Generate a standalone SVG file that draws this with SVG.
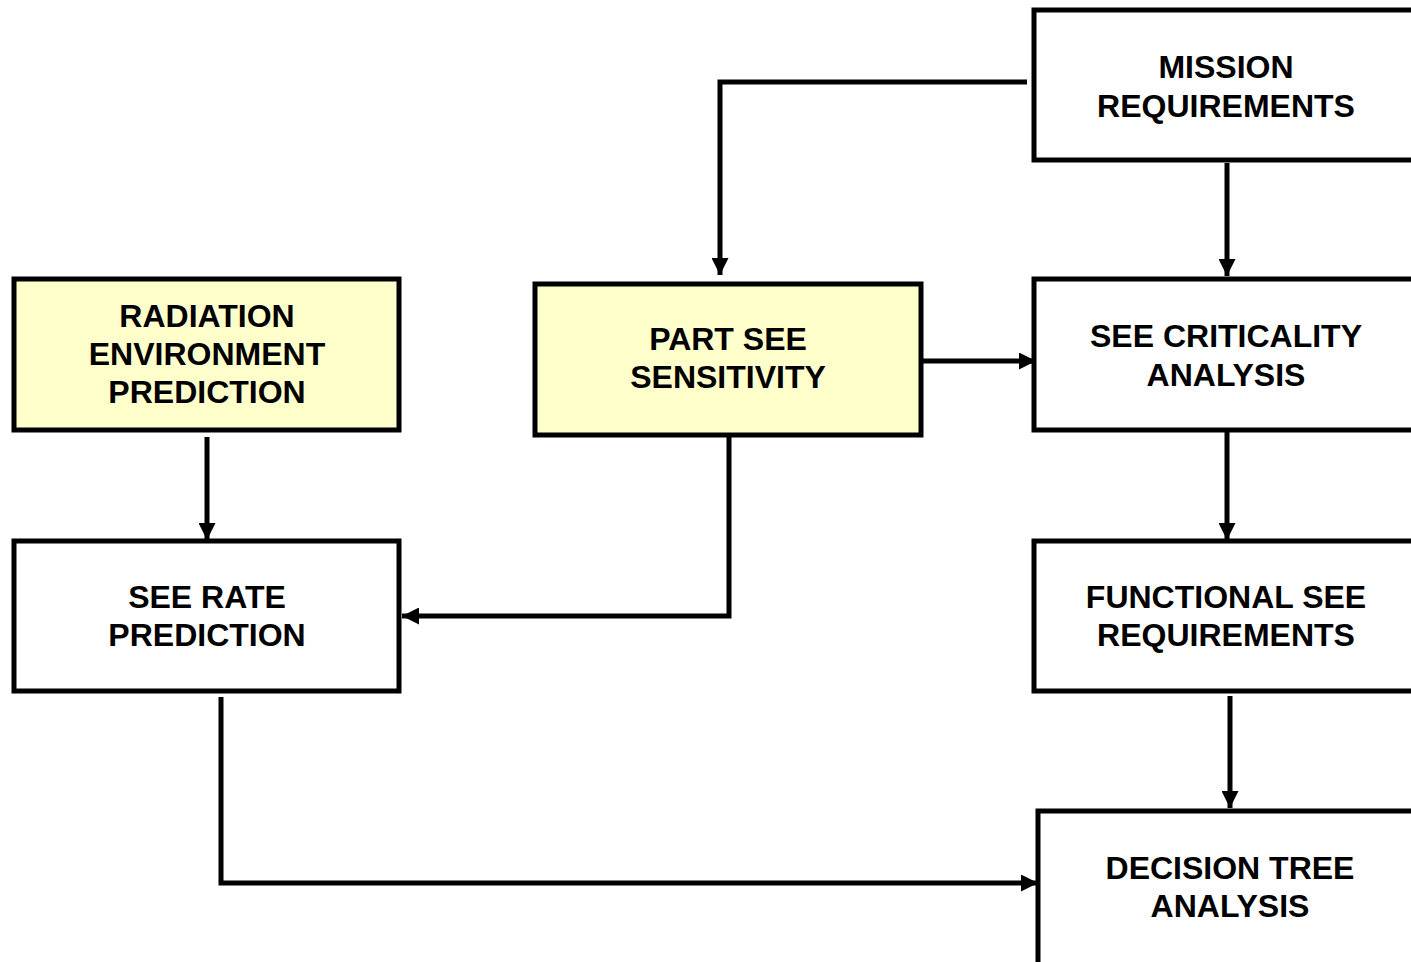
<svg xmlns="http://www.w3.org/2000/svg" width="1411" height="962" viewBox="0 0 1411 962">
  <style>
    .box { fill: #ffffff; stroke: #000000; stroke-width: 5; }
    .hl { fill: #ffffcc; }
    .lbl { font-family: "Liberation Sans", Arial, sans-serif; font-weight: bold; font-size: 32px; fill: #000000; text-anchor: middle; }
    .wire { fill: none; stroke: #000000; stroke-width: 5; stroke-linejoin: miter; }
  </style>
  <defs>
    <marker id="arrow" viewBox="0 0 10 10" refX="10" refY="5" markerWidth="3.4" markerHeight="3.4" orient="auto" markerUnits="strokeWidth">
      <path d="M0,0 L10,5 L0,10 Z" fill="#000000"/>
    </marker>
  </defs>
  <rect width="1411" height="962" fill="#ffffff"/>

  <g id="connectors">
    <!-- mission requirements feeding part sensitivity -->
    <polyline class="wire" points="1027,82 720,82 720,275" marker-end="url(#arrow)"/>
    <!-- mission requirements to criticality analysis -->
    <line class="wire" x1="1227" y1="163" x2="1227" y2="276" marker-end="url(#arrow)"/>
    <!-- part sensitivity to criticality analysis -->
    <line class="wire" x1="922" y1="361" x2="1036" y2="361" marker-end="url(#arrow)"/>
    <!-- criticality analysis to functional requirements -->
    <line class="wire" x1="1227" y1="432" x2="1227" y2="540" marker-end="url(#arrow)"/>
    <!-- functional requirements to decision tree -->
    <line class="wire" x1="1230" y1="696" x2="1230" y2="808" marker-end="url(#arrow)"/>
    <!-- radiation environment to rate prediction -->
    <line class="wire" x1="207" y1="437" x2="207" y2="540" marker-end="url(#arrow)"/>
    <!-- part sensitivity to rate prediction -->
    <polyline class="wire" points="729,437 729,616 402,616" marker-end="url(#arrow)"/>
    <!-- rate prediction to decision tree -->
    <polyline class="wire" points="221,697 221,883 1038,883" marker-end="url(#arrow)"/>
  </g>

  <g id="mission-requirements">
    <rect class="box" x="1034" y="10" width="400" height="150"/>
    <text class="lbl" x="1226" y="78">MISSION</text>
    <text class="lbl" x="1226" y="117">REQUIREMENTS</text>
  </g>

  <g id="radiation-environment">
    <rect class="box hl" x="14" y="279" width="385" height="151"/>
    <text class="lbl" x="207" y="327">RADIATION</text>
    <text class="lbl" x="207" y="365">ENVIRONMENT</text>
    <text class="lbl" x="207" y="403">PREDICTION</text>
  </g>

  <g id="part-see-sensitivity">
    <rect class="box hl" x="535" y="284" width="386" height="151"/>
    <text class="lbl" x="728" y="350">PART SEE</text>
    <text class="lbl" x="728" y="388">SENSITIVITY</text>
  </g>

  <g id="see-criticality">
    <rect class="box" x="1034" y="279" width="400" height="151"/>
    <text class="lbl" x="1226" y="347">SEE CRITICALITY</text>
    <text class="lbl" x="1226" y="386">ANALYSIS</text>
  </g>

  <g id="see-rate-prediction">
    <rect class="box" x="14" y="541" width="385" height="150"/>
    <text class="lbl" x="207" y="608">SEE RATE</text>
    <text class="lbl" x="207" y="646">PREDICTION</text>
  </g>

  <g id="functional-see-requirements">
    <rect class="box" x="1034" y="541" width="400" height="150"/>
    <text class="lbl" x="1226" y="608">FUNCTIONAL SEE</text>
    <text class="lbl" x="1226" y="646">REQUIREMENTS</text>
  </g>

  <g id="decision-tree-analysis">
    <rect class="box" x="1038" y="811" width="400" height="170"/>
    <text class="lbl" x="1230" y="879">DECISION TREE</text>
    <text class="lbl" x="1230" y="917">ANALYSIS</text>
  </g>
</svg>
